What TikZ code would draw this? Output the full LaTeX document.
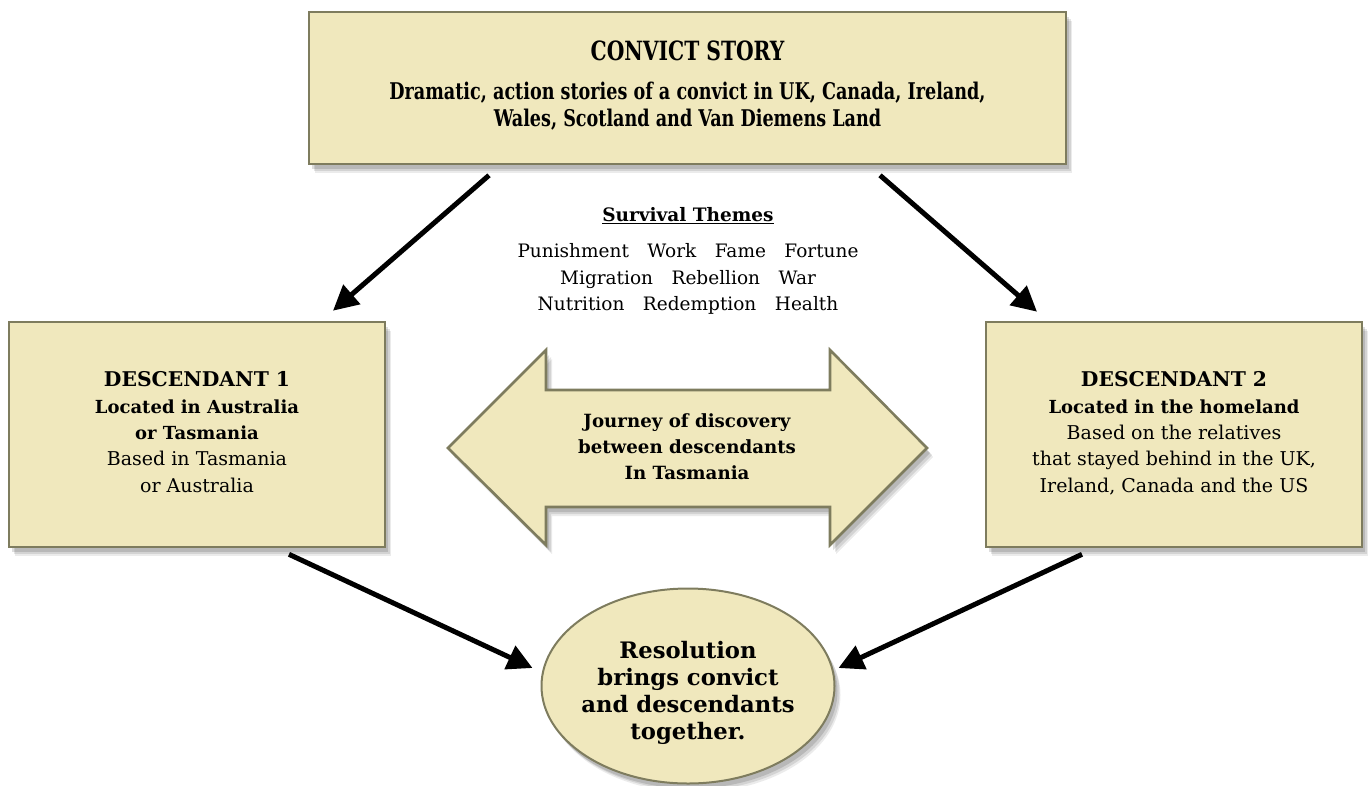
\documentclass[tikz,border=0pt]{standalone}
\usepackage{fontspec}
\setmainfont{DejaVu Serif}
\newfontfamily\condfont[FakeStretch=0.85]{DejaVu Serif Condensed}
\usetikzlibrary{shadows,arrows.meta,shapes.geometric}
\definecolor{boxfill}{HTML}{F0E8BD}
\definecolor{boxline}{HTML}{7E7C5E}
\tikzset{
  shad/.style={
    drop shadow={shadow xshift=6pt,shadow yshift=-9pt,opacity=0.08,fill=black},
    drop shadow={shadow xshift=5pt,shadow yshift=-7pt,opacity=0.10,fill=black},
    drop shadow={shadow xshift=3pt,shadow yshift=-5pt,opacity=0.13,fill=black}},
  panel/.style={draw=boxline,line width=2.6pt,fill=boxfill,shad,rectangle,align=center,inner sep=0pt},
  conn/.style={line width=5pt,-{Triangle[length=25pt,width=25pt]}},
  themetext/.style={align=center,font=\fontsize{18.5}{26.5}\selectfont},
}
\begin{document}
\begin{tikzpicture}[x=1pt,y=-1pt]
\useasboundingbox (0,0) rectangle (1368,785);
% top box
\node[panel,minimum width=757pt,minimum height=152pt,font=\condfont\bfseries\fontsize{23}{27}\selectfont] (top) at (687.5,88)
 {{\fontsize{26.5}{27}\selectfont CONVICT STORY}\\[12pt]
  Dramatic, action stories of a convict in UK, Canada, Ireland,\\
  Wales, Scotland and Van Diemens Land\rule[-9pt]{0pt}{1pt}};
% descendants
\node[panel,minimum width=376pt,minimum height=225pt,font=\fontsize{19}{26.3}\selectfont] (d1) at (197,434.5)
 {\textbf{\fontsize{20.3}{26.3}\selectfont DESCENDANT 1}\\ \textbf{\fontsize{18}{26.3}\selectfont Located in Australia}\\ \textbf{\fontsize{18}{26.3}\selectfont or Tasmania}\\ Based in Tasmania\\ or Australia\rule[-5pt]{0pt}{1pt}};
\node[panel,minimum width=376pt,minimum height=225pt,font=\fontsize{19}{26.3}\selectfont] (d2) at (1174,434.5)
 {\textbf{\fontsize{20.3}{26.3}\selectfont DESCENDANT 2}\\ \textbf{\fontsize{18}{26.3}\selectfont Located in the homeland}\\ Based on the relatives\\ that stayed behind in the UK,\\ Ireland, Canada and the US\rule[-5pt]{0pt}{1pt}};
% survival themes
\node[themetext] (themes) at (688,261)
 {\textbf{\underline{Survival Themes}}\\[10pt]
  Punishment\hspace{1em}Work\hspace{1em}Fame\hspace{1em}Fortune\\
  Migration\hspace{1em}Rebellion\hspace{1em}War\\
  Nutrition\hspace{1em}Redemption\hspace{1em}Health};
% double arrow
\path[draw=boxline,line width=2.6pt,fill=boxfill,shad,line join=miter]
 (448,448) -- (546,350) -- (546,390) -- (830,390) -- (830,350) -- (927,448)
 -- (830,545) -- (830,507) -- (546,507) -- (546,545) -- cycle;
\node[align=center,font=\bfseries\fontsize{18.2}{26}\selectfont] (journey) at (687,447)
 {Journey of discovery\\ between descendants\\ In Tasmania};
% resolution
\node[ellipse,draw=boxline,line width=2pt,fill=boxfill,shad,minimum width=293pt,minimum height=195pt,inner xsep=-4pt,inner ysep=0pt,align=center,font=\bfseries\fontsize{22.7}{27}\selectfont] (res) at (688,686)
 {\rule{0pt}{31pt}Resolution\\ brings convict\\ and descendants\\ together.};
% connectors
\coordinate (a1s) at ([shift={(-198.5,10)}]top.south);
\coordinate (a1e) at ([shift={(136,-10)}]d1.north);
\coordinate (a2s) at ([shift={(192.5,10)}]top.south);
\coordinate (a2e) at ([shift={(-137,-9)}]d2.north);
\coordinate (a3s) at ([shift={(92,6)}]d1.south);
\coordinate (a3e) at ([shift={(-8,-18)}]res.west);
\coordinate (a4s) at ([shift={(-92,6)}]d2.south);
\coordinate (a4e) at ([shift={(3,-18)}]res.east);
\draw[conn] (a1s) -- (a1e);
\draw[conn] (a2s) -- (a2e);
\draw[conn] (a3s) -- (a3e);
\draw[conn] (a4s) -- (a4e);
\end{tikzpicture}
\end{document}
